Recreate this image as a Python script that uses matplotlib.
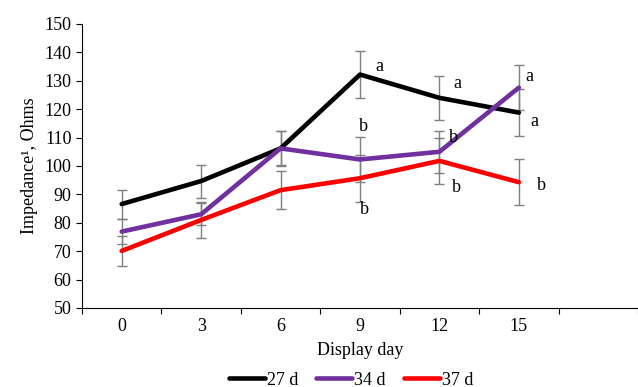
import matplotlib.pyplot as plt
import numpy as np

days = ["0", "3", "6", "9", "12", "15"]
series = ["27 d", "34 d", "37 d"]
colors = ["#000000", "#7030A0", "#FF0000"]

imp_27 = [86.6, 94.7, 106.2, 132.2, 124.0, 118.8]
imp_34 = [76.9, 83.0, 106.2, 102.3, 105.0, 127.6]
imp_37 = [70.1, 81.0, 91.5, 95.7, 101.8, 94.3]

err_27 = [5.1, 5.8, 6.1, 8.2, 7.7, 8.2]
err_34 = [4.4, 3.9, 6.0, 8.0, 7.4, 8.0]
err_37 = [5.4, 6.5, 6.8, 8.3, 8.0, 8.0]

# significance letters: (day index offset, value, letter)
letters = [
    (3.24, 135.2, "a"), (3.04, 113.8, "b"), (3.06, 84.8, "b"),
    (4.22, 128.9, "a"), (4.18, 110.1, "b"), (4.22, 92.3, "b"),
    (5.13, 131.4, "a"), (5.20, 115.6, "a"), (5.29, 93.0, "b"),
]

plt.rcParams['font.family'] = ['Liberation Serif', 'DejaVu Serif']

fig = plt.figure(figsize=(6.38, 3.87), dpi=100)
ax = fig.add_axes([82 / 638, 79 / 387, 556 / 638, 284 / 387])

x = np.arange(len(days))
values = [imp_27, imp_34, imp_37]
errors = [err_27, err_34, err_37]

for vals, errs in zip(values, errors):
    ax.errorbar(x, vals, yerr=errs, fmt="none", ecolor="#7f7f7f",
                elinewidth=1, capsize=3.5, capthick=1, zorder=2)
for vals, col, name in zip(values, colors, series):
    ax.plot(x, vals, color=col, lw=3.3, label=name, zorder=3,
            solid_capstyle="round")

for xi, yi, t in letters:
    ax.text(xi, yi, t, fontsize=13, ha="center", va="center", zorder=4)

ax.set_xlim(-0.5, 6.49)
ax.set_ylim(50, 150)
ax.set_yticks(np.arange(50, 151, 10))
ax.tick_params(axis="y", labelsize=13, direction="out", length=4, width=0.8)

ax.set_xticks(np.arange(-0.5, 7, 1))
ax.set_xticklabels([])
ax.set_xticks(x, minor=True)
ax.set_xticklabels(days, minor=True, fontsize=13)
ax.tick_params(axis="x", which="major", direction="out", length=4, width=0.8)
ax.tick_params(axis="x", which="minor", length=0, pad=7)

for s in ["top", "right"]:
    ax.spines[s].set_visible(False)
ax.spines["left"].set_linewidth(0.8)
ax.spines["bottom"].set_linewidth(0.8)

ax.set_xlabel("Display day", fontsize=13, labelpad=5)
ax.set_ylabel("Impedance¹, Ohms", fontsize=13, labelpad=5)

fig.legend(loc="center", bbox_to_anchor=(0.55, 0.018), ncol=3, frameon=False,
           fontsize=13, handlelength=2.0, handletextpad=0.1,
           columnspacing=1.0)

fig.savefig("out.png", dpi=100)
